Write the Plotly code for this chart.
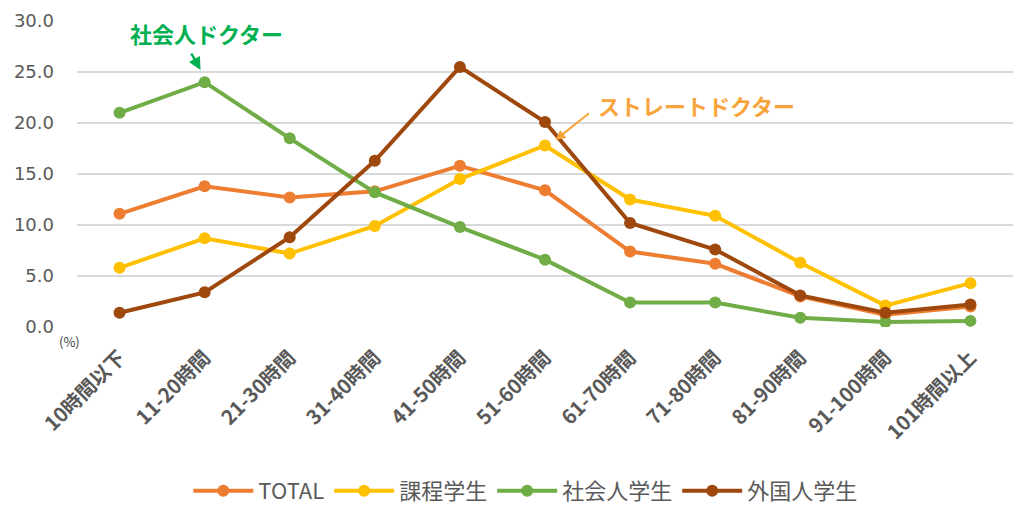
import plotly.graph_objects as go

categories = ["10時間以下", "11-20時間", "21-30時間", "31-40時間", "41-50時間", "51-60時間",
              "61-70時間", "71-80時間", "81-90時間", "91-100時間", "101時間以上"]
total = [11.1, 13.8, 12.7, 13.3, 15.8, 13.4, 7.4, 6.2, 3.0, 1.2, 2.0]
katei = [5.8, 8.7, 7.2, 9.9, 14.5, 17.8, 12.5, 10.9, 6.3, 2.1, 4.3]
shakaijin = [21.0, 24.0, 18.5, 13.2, 9.8, 6.6, 2.4, 2.4, 0.9, 0.5, 0.6]
gaikokujin = [1.4, 3.4, 8.8, 16.3, 25.5, 20.1, 10.2, 7.6, 3.1, 1.4, 2.2]
y_ticks = [0, 5, 10, 15, 20, 25, 30]

series = [
    ("TOTAL", total, "#ED7D31"),
    ("課程学生", katei, "#FFC000"),
    ("社会人学生", shakaijin, "#70AD47"),
    ("外国人学生", gaikokujin, "#9E480E"),
]

font_family = "Noto Sans CJK JP, Open Sans, sans-serif"

fig = go.Figure()
for name, vals, color in series:
    fig.add_trace(go.Scatter(
        x=categories, y=vals, name=name, mode="lines+markers",
        line=dict(color=color, width=4),
        marker=dict(color=color, size=12),
    ))

fig.update_layout(
    width=1024, height=518,
    margin=dict(l=77, r=11, t=21, b=191),
    paper_bgcolor="white", plot_bgcolor="white",
    font=dict(family=font_family, color="#595959"),
    showlegend=True,
    legend=dict(orientation="h", x=0.513, xref="container", xanchor="center",
                y=0.052, yref="container", yanchor="middle",
                font=dict(size=22, color="#595959"), itemwidth=60,
                traceorder="normal"),
    xaxis=dict(type="category", showgrid=False, tickangle=-45,
               tickfont=dict(size=20, color="#595959", family=font_family, weight="bold"),
               ticks="", showline=False, range=[-0.5, 10.5], automargin=False,
               ticklabelstandoff=14),
    yaxis=dict(range=[0, 30], tickvals=y_ticks, tickformat=".1f",
               gridcolor="#D9D9D9", gridwidth=1.5, zeroline=False, automargin=False,
               tickfont=dict(size=18, color="#595959", family="DejaVu Sans"),
               ticks="", showline=False, ticklabelstandoff=22),
)

fig.add_annotation(x=-0.0075, y=-0.046, xref="paper", yref="paper", text="(%)",
                   showarrow=False, xanchor="center", yanchor="middle",
                   font=dict(size=13, color="#404040"))

# 社会人ドクター
fig.add_annotation(x=1.02, y=28.8, xref="x", yref="y", text="<b>社会人ドクター</b>",
                   showarrow=False, font=dict(size=22, color="#00B050"))
fig.add_annotation(x=0.952, y=25.2, ax=0.834, ay=26.96, xref="x", yref="y",
                   axref="x", ayref="y", text="", showarrow=True, arrowhead=2,
                   arrowsize=1, arrowwidth=2.5, arrowcolor="#00B050")

# ストレートドクター
fig.add_annotation(x=6.78, y=21.76, xref="x", yref="y", text="<b>ストレートドクター</b>",
                   showarrow=False, font=dict(size=22, color="#F8A43A"))
fig.add_annotation(x=5.123, y=18.33, ax=5.535, ay=21.08, xref="x", yref="y",
                   axref="x", ayref="y", text="", showarrow=True, arrowhead=2,
                   arrowsize=1, arrowwidth=2, arrowcolor="#F8A43A")

fig.write_html("out.html")
